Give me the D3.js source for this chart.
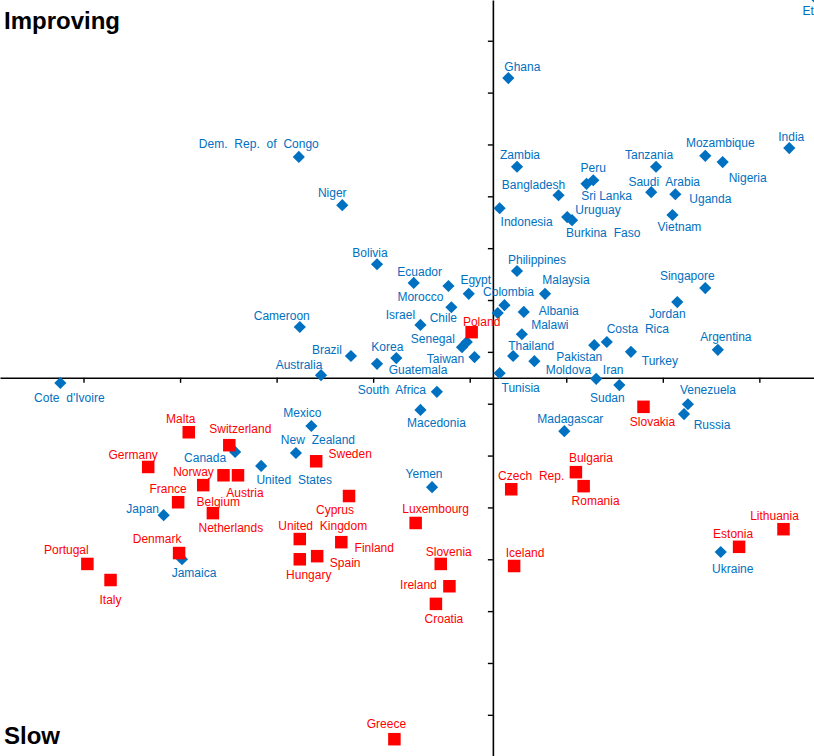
<!DOCTYPE html>
<html>
<head>
<meta charset="utf-8">
<script src="https://cdn.jsdelivr.net/npm/d3@7"></script>
<style>
  html, body { margin: 0; padding: 0; background: #fff; }
  svg { display: block; }
  text { font-family: Arial, "Liberation Sans", sans-serif; }
</style>
</head>
<body>
<svg id="chart" width="814" height="756"></svg>
<script>
// ---------------- DATA ----------------
// Blue diamonds
const blueNames = ["Ghana","Dem. Rep. of Congo","Niger","Zambia","Bangladesh","Peru","Sri Lanka","Tanzania",
  "Mozambique","India","Nigeria","Saudi Arabia","Uganda","Indonesia","Uruguay","Burkina Faso","Vietnam","Ethiopia",
  "Bolivia","Philippines","Ecuador","Morocco","Egypt","Colombia","","Malaysia","Albania","Malawi","Israel","Chile",
  "Senegal","","Cameroon","Brazil","Korea","Guatemala","Taiwan","Australia","Thailand","Moldova","Pakistan",
  "Costa Rica","Jordan","Singapore","Argentina","Turkey","Iran","Sudan","Tunisia","Cote d'Ivoire","South Africa",
  "Venezuela","Russia","Macedonia","Madagascar","Mexico","Canada","New Zealand","United States","Japan","Yemen",
  "Jamaica","Ukraine"];
const blueX = [0.40,-1.77,-1.32,0.49,0.92,1.28,1.21,1.93,
  2.44,3.31,2.62,1.88,2.13,0.31,1.06,1.01,2.10,3.60,
  -0.96,0.49,-0.58,-0.22,-0.01,0.36,0.29,0.78,0.56,0.54,-0.51,-0.19,
  -0.03,-0.08,-1.76,-1.23,-0.76,-0.96,0.05,-1.54,0.45,0.67,1.29,
  1.42,2.15,2.44,2.57,1.67,1.31,1.55,0.31,-4.24,-0.34,
  2.26,2.22,-0.51,0.98,-1.64,-2.43,-1.80,-2.16,-3.17,-0.39,
  -2.98,2.60];
const blueY = [6.28,4.76,3.83,4.57,4.02,4.31,4.24,4.57,
  4.78,4.93,4.66,4.08,4.04,3.77,3.54,3.60,3.64,7.79,
  2.69,2.56,2.33,2.27,2.12,1.90,1.75,2.12,1.77,1.34,1.52,1.86,
  1.19,1.09,1.48,0.92,0.88,0.77,0.90,0.55,0.92,0.82,1.13,
  1.19,1.96,2.23,1.04,1.00,0.48,0.36,0.59,0.40,0.23,
  -0.01,-0.20,-0.12,-0.53,-0.43,-0.93,-0.95,-1.20,-2.15,-1.61,
  -3.00,-2.86];

// Red squares
const redNames = ["Poland","Slovakia","Malta","Switzerland","Germany","Sweden","Norway","Austria","Belgium",
  "France","Netherlands","Cyprus","Czech Rep.","Bulgaria","Romania","Luxembourg","United Kingdom","Finland",
  "Spain","Hungary","Denmark","Portugal","Italy","Slovenia","Iceland","Ireland","Croatia","Greece",
  "Lithuania","Estonia"];
const redX = [0.02,1.80,-2.91,-2.49,-3.33,-1.59,-2.55,-2.40,-2.76,
  -3.02,-2.66,-1.25,0.43,1.10,1.18,-0.56,-1.76,-1.33,
  -1.58,-1.76,-3.01,-3.96,-3.72,-0.30,0.46,-0.21,-0.35,-0.78,
  3.25,2.79];
const redY = [1.38,-0.06,-0.55,-0.80,-1.22,-1.11,-1.38,-1.38,-1.57,
  -1.90,-2.11,-1.78,-1.65,-1.32,-1.59,-2.30,-2.61,-2.67,
  -2.94,-3.00,-2.88,-3.09,-3.40,-3.09,-3.13,-3.52,-3.86,-6.47,
  -2.42,-2.76];

// Axis ticks and crossing
const xTicks = [-4,-3,-2,-1,0,1,2,3];
const yTicks = [-6,-5,-4,-3,-2,-1,0,1,2,3,4,5,6,7];
const xCross = 0.24;   // where the vertical axis sits
const yCross = 0.5;    // where the horizontal axis sits
const cornerLabels = ["Improving","Slow"];

// ---------------- LAYOUT (label placement, px offsets from marker) ----------------
const labelOffset = {
  "Ghana":[14,-7],"Dem. Rep. of Congo":[-40,-9],"Niger":[-10,-8],"Zambia":[3,-8],"Bangladesh":[-25,-6],
  "Peru":[0,-8],"Sri Lanka":[20,16],"Tanzania":[-7,-8],"Mozambique":[15,-9],"India":[2,-7],"Nigeria":[25,20],
  "Saudi Arabia":[13,-6],"Uganda":[35,9],"Indonesia":[27,18],"Uruguay":[26,-6],"Burkina Faso":[36,20],
  "Vietnam":[7,16],"Ethiopia":[7,15],"Bolivia":[-7,-7],"Philippines":[20,-7],"Ecuador":[6,-7],"Morocco":[-28,15],
  "Egypt":[7,-10],"Colombia":[4,-9],"Malaysia":[21,-10],"Albania":[35,3],"Malawi":[28,-5],"Israel":[-20,-6],
  "Chile":[-8,15],"Senegal":[-34,1],"Cameroon":[-18,-7],"Brazil":[-24,-2],"Korea":[-9,-7],"Guatemala":[41,10],
  "Taiwan":[-29,6],"Australia":[-22,-6],"Thailand":[18,-6],"Moldova":[34,13],"Pakistan":[-15,16],
  "Costa Rica":[31,-9],"Jordan":[-10,16],"Singapore":[-18,-8],"Argentina":[8,-9],"Turkey":[29,13],
  "Iran":[17,-5],"Sudan":[-12,17],"Tunisia":[21,19],"Cote d'Ivoire":[9,19],"South Africa":[-45,2],
  "Venezuela":[20,-10],"Russia":[28,15],"Macedonia":[16,17],"Madagascar":[6,-8],"Mexico":[-9,-9],
  "Canada":[-30,10],"New Zealand":[22,-9],"United States":[33,18],"Japan":[-21,-2],"Yemen":[-8,-9],
  "Jamaica":[12,18],"Ukraine":[12,21],
  "Poland":[10,-6],"Slovakia":[9,19],"Malta":[-8,-9],"Switzerland":[11,-12],"Germany":[-15,-8],
  "Sweden":[34,-3],"Norway":[-30,1],"Austria":[7,22],"Belgium":[15,21],"France":[-10,-9],
  "Netherlands":[18,19],"Cyprus":[-14,18],"Czech Rep.":[20,-9],"Bulgaria":[15,-10],"Romania":[12,19],
  "Luxembourg":[20,-10],"United Kingdom":[23,-9],"Finland":[33,10],"Spain":[28,11],"Hungary":[9,20],
  "Denmark":[-22,-10],"Portugal":[-21,-10],"Italy":[0,24],"Slovenia":[8,-8],"Iceland":[11,-9],
  "Ireland":[-31,3],"Croatia":[8,19],"Greece":[-8,-11],"Lithuania":[-9,-9],"Estonia":[-6,-9]
};
const tightSpacing = { "Sri Lanka": true };

// ---------------- CHART ----------------
const W = 814, H = 756;
const BLUE = "#0070C0", RED = "#FF0000";
const svg = d3.select("#chart");

const x = d3.scaleLinear().domain([-4.865, 3.566]).range([0, W]);
const y = d3.scaleLinear().domain([7.786, -6.794]).range([0, H]);

// Axes
const yAxis = d3.axisLeft(y).tickValues(yTicks).tickSize(5).tickSizeOuter(0).tickFormat("");
const xAxis = d3.axisBottom(x).tickValues(xTicks).tickSize(5).tickSizeOuter(0).tickFormat("");

const gy = svg.append("g").attr("transform", `translate(${x(xCross)},0)`).call(yAxis);
const gx = svg.append("g").attr("transform", `translate(0,${y(yCross)})`).call(xAxis);
[gx, gy].forEach(g => {
  g.select(".domain").attr("stroke", "#000").attr("stroke-width", 1.6);
  g.selectAll(".tick line").attr("stroke", "#000").attr("stroke-width", 1.4);
});

const blue = blueNames.map((n, i) => ({ name: n, x: blueX[i], y: blueY[i] }));
const red = redNames.map((n, i) => ({ name: n, x: redX[i], y: redY[i] }));

const diamond = d3.symbol().type(d3.symbolSquare).size(74);

svg.append("g").selectAll("path").data(blue).join("path")
  .attr("d", diamond)
  .attr("transform", d => `translate(${x(d.x)},${y(d.y)}) rotate(45)`)
  .attr("fill", BLUE);

const S = 12.5;
svg.append("g").selectAll("rect").data(red).join("rect")
  .attr("x", d => x(d.x) - S / 2)
  .attr("y", d => y(d.y) - S / 2)
  .attr("width", S).attr("height", S)
  .attr("fill", RED);

function addLabels(data, color) {
  svg.append("g").selectAll("text").data(data.filter(d => d.name)).join("text")
    .attr("x", d => x(d.x) + (labelOffset[d.name] || [0, -8])[0])
    .attr("y", d => y(d.y) + (labelOffset[d.name] || [0, -8])[1])
    .attr("text-anchor", "middle")
    .attr("font-size", 12)
    .attr("word-spacing", d => tightSpacing[d.name] ? 0 : 3.5)
    .attr("fill", color)
    .text(d => d.name);
}
addLabels(blue, BLUE);
addLabels(red, RED);

// Corner labels
svg.append("text").attr("x", 4).attr("y", 29).attr("font-size", 24).attr("font-weight", "bold")
  .attr("fill", "#000").text(cornerLabels[0]);
svg.append("text").attr("x", 4).attr("y", 744).attr("font-size", 24).attr("font-weight", "bold")
  .attr("fill", "#000").text(cornerLabels[1]);
</script>
</body>
</html>
